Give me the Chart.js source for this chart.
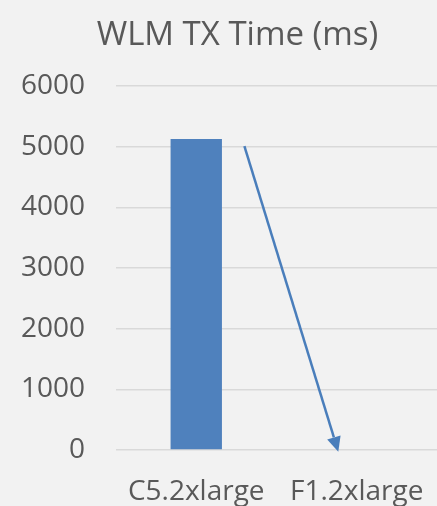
<!DOCTYPE html>
<html>
<head>
<meta charset="utf-8">
<script src="https://cdn.jsdelivr.net/npm/chart.js@4"></script>
<style>
  html, body { margin: 0; padding: 0; background: #f2f2f2; }
  #title {
    position: absolute; left: 0; top: 0; z-index: 1;
    height: 66px; line-height: 66px; padding-left: 38px; box-sizing: border-box;
    text-align: center; font-family: 'Open Sans'; font-size: 33px; color: #595959;
    width: 437px; white-space: nowrap;
  }
  #wrap { position: absolute; left: 0; top: 0; width: 437px; height: 506px; }
</style>
</head>
<body>
<div id="title">WLM TX Time (ms)</div>
<div id="wrap"><canvas id="chart"></canvas></div>
<script>
const categories = ['C5.2xlarge', 'F1.2xlarge'];
const txTime = [5125, 0];
const yTicks = [0, 1000, 2000, 3000, 4000, 5000, 6000];

// arrow drawn on the chart: [category index, value]
const arrowFrom = [0.3, 5010];
const arrowTo = [0.885, -30];

const textColor = '#595959';

const arrowPlugin = {
  id: 'arrow',
  afterDatasetsDraw(chart) {
    const x = chart.scales.x, y = chart.scales.y;
    const x1 = x.getPixelForValue(arrowFrom[0]), y1 = y.getPixelForValue(arrowFrom[1]);
    const x2 = x.getPixelForValue(arrowTo[0]), y2 = y.getPixelForValue(arrowTo[1]);
    const ang = Math.atan2(y2 - y1, x2 - x1);
    const headLen = 15, headW = 7;
    const bx = x2 - headLen * Math.cos(ang), by = y2 - headLen * Math.sin(ang);
    const ctx = chart.ctx;
    ctx.save();
    ctx.strokeStyle = '#4a7ebb';
    ctx.fillStyle = '#4a7ebb';
    ctx.lineWidth = 2.5;
    ctx.beginPath();
    ctx.moveTo(x1, y1);
    ctx.lineTo(bx, by);
    ctx.stroke();
    ctx.beginPath();
    ctx.moveTo(x2, y2);
    ctx.lineTo(bx + headW * Math.sin(ang), by - headW * Math.cos(ang));
    ctx.lineTo(bx - headW * Math.sin(ang), by + headW * Math.cos(ang));
    ctx.closePath();
    ctx.fill();
    ctx.restore();
  }
};

new Chart(document.getElementById('chart'), {
  type: 'bar',
  data: {
    labels: categories,
    datasets: [{
      label: 'WLM TX Time (ms)',
      data: txTime,
      backgroundColor: '#4f81bd',
      categoryPercentage: 1,
      barPercentage: 0.32
    }]
  },
  options: {
    responsive: true,
    maintainAspectRatio: false,
    animation: false,
    layout: { padding: { top: 86, left: 0, right: 0, bottom: 0 } },
    plugins: {
      legend: { display: false },
      tooltip: { enabled: false },
      title: { display: false }
    },
    scales: {
      x: {
        grid: { display: false },
        border: { display: false },
        ticks: {
          color: textColor,
          font: { family: 'Open Sans', size: 28 },
          padding: 17,
          maxRotation: 0
        },
        afterFit(scale) {
          scale.height = 56;
          scale.paddingLeft = 0;
          scale.paddingRight = 0;
        }
      },
      y: {
        min: 0,
        max: 6000,
        afterBuildTicks(scale) { scale.ticks = yTicks.map(v => ({ value: v })); },
        grid: { color: '#d9d9d9', lineWidth: 1.5, drawTicks: false },
        border: { display: false },
        ticks: {
          color: textColor,
          font: { family: 'Open Sans', size: 28 },
          padding: 31,
          callback: v => String(v)
        },
        afterFit(scale) { scale.width = 116; }
      }
    }
  },
  plugins: [arrowPlugin]
});
</script>
</body>
</html>
